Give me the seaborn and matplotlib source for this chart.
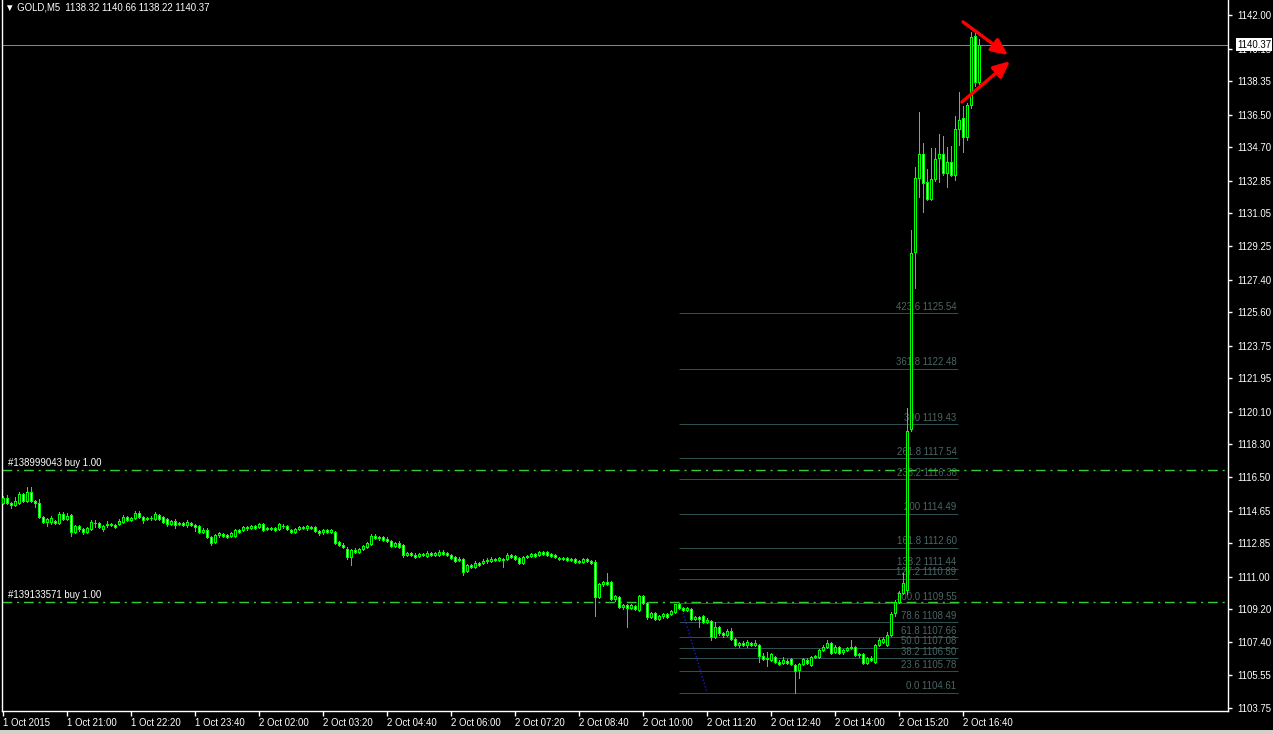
import numpy as np
import pandas as pd
import matplotlib
matplotlib.use("Agg")
import matplotlib.pyplot as plt
import matplotlib.transforms as mtransforms
from matplotlib.patches import Rectangle
import seaborn as sns

# GOLD M5 bars, 1 Oct 2015 19:40 -> 2 Oct 16:55
opens = [
    1115.07, 1115.35, 1115.07, 1114.96, 1115.07, 1115.57, 1115.18, 1115.68, 1115.18, 1115.07,
    1114.30, 1114.02, 1114.02, 1114.08, 1113.97, 1114.46, 1114.19, 1114.41, 1113.47, 1113.80,
    1113.63, 1113.47, 1113.63, 1113.97, 1113.97, 1113.63, 1113.86, 1113.91, 1113.86, 1113.91,
    1114.02, 1114.30, 1114.13, 1114.24, 1114.52, 1114.30, 1114.19, 1114.24, 1114.19, 1114.41,
    1114.30, 1114.19, 1113.91, 1114.08, 1113.91, 1113.97, 1113.86, 1113.97, 1113.86, 1113.80,
    1113.47, 1113.58, 1113.19, 1112.92, 1113.30, 1113.36, 1113.30, 1113.25, 1113.25, 1113.58,
    1113.58, 1113.69, 1113.69, 1113.80, 1113.75, 1113.91, 1113.63, 1113.69, 1113.69, 1113.63,
    1113.80, 1113.80, 1113.58, 1113.47, 1113.63, 1113.75, 1113.69, 1113.75, 1113.75, 1113.52,
    1113.47, 1113.58, 1113.47, 1113.47, 1112.92, 1112.75, 1112.53, 1112.09, 1112.48, 1112.36,
    1112.53, 1112.64, 1112.81, 1113.25, 1113.14, 1113.19, 1113.08, 1112.97, 1112.70, 1112.86,
    1112.75, 1112.20, 1112.31, 1112.20, 1112.14, 1112.25, 1112.14, 1112.31, 1112.20, 1112.20,
    1112.36, 1112.31, 1112.20, 1112.09, 1111.92, 1111.98, 1111.32, 1111.65, 1111.54, 1111.76,
    1111.76, 1111.87, 1111.87, 1111.98, 1111.92, 1111.98, 1111.98, 1112.20, 1112.14, 1112.03,
    1111.76, 1112.09, 1112.14, 1112.25, 1112.20, 1112.36, 1112.36, 1112.25, 1112.20, 1112.03,
    1111.98, 1112.03, 1111.92, 1111.98, 1111.81, 1111.81, 1111.98, 1111.87, 1111.81, 1109.88,
    1110.60, 1110.71, 1110.71, 1109.77, 1109.88, 1109.33, 1109.44, 1109.28, 1109.39, 1109.17,
    1109.94, 1109.55, 1108.78, 1109.00, 1108.67, 1108.84, 1108.95, 1108.95, 1109.06, 1109.50,
    1109.28, 1109.17, 1109.22, 1108.67, 1108.78, 1108.84, 1108.51, 1108.56, 1107.68, 1108.23,
    1107.90, 1107.79, 1108.01, 1107.57, 1107.24, 1107.35, 1107.24, 1107.35, 1107.24, 1107.24,
    1106.64, 1106.47, 1106.42, 1106.58, 1106.31, 1106.25, 1106.36, 1106.47, 1106.14, 1105.87,
    1106.20, 1106.42, 1106.14, 1106.58, 1106.58, 1106.97, 1107.13, 1107.35, 1106.86, 1107.13,
    1106.86, 1106.97, 1107.08, 1107.13, 1106.69, 1106.75, 1106.25, 1106.53, 1106.31, 1107.24,
    1107.41, 1107.24, 1107.79, 1109.00, 1109.61, 1110.10, 1110.27, 1119.15, 1128.92, 1133.01,
    1134.33, 1132.79, 1131.85, 1132.95, 1134.11, 1134.33, 1133.28, 1133.89, 1133.17, 1135.71,
    1136.32, 1135.27, 1137.04, 1140.84, 1138.32,
]
closes = [
    1115.35, 1115.07, 1114.96, 1115.18, 1115.57, 1115.18, 1115.68, 1115.18, 1115.07, 1114.30,
    1114.02, 1114.19, 1114.24, 1113.97, 1114.46, 1114.19, 1114.35, 1113.47, 1113.80, 1113.63,
    1113.47, 1113.69, 1114.02, 1113.97, 1113.75, 1113.80, 1113.91, 1113.86, 1113.75, 1114.08,
    1114.30, 1114.13, 1114.24, 1114.52, 1114.30, 1114.13, 1114.24, 1114.22, 1114.46, 1114.19,
    1114.02, 1113.91, 1114.08, 1113.86, 1113.97, 1113.86, 1114.02, 1113.86, 1113.75, 1113.47,
    1113.58, 1113.19, 1112.86, 1113.30, 1113.41, 1113.25, 1113.19, 1113.41, 1113.58, 1113.47,
    1113.75, 1113.75, 1113.80, 1113.69, 1113.91, 1113.58, 1113.69, 1113.63, 1113.58, 1113.91,
    1113.78, 1113.63, 1113.47, 1113.63, 1113.75, 1113.69, 1113.80, 1113.69, 1113.52, 1113.41,
    1113.58, 1113.47, 1113.58, 1112.86, 1112.75, 1112.64, 1112.09, 1112.48, 1112.36, 1112.53,
    1112.70, 1112.86, 1113.25, 1113.14, 1113.19, 1113.03, 1112.97, 1112.70, 1112.86, 1112.64,
    1112.20, 1112.31, 1112.20, 1112.09, 1112.25, 1112.20, 1112.31, 1112.20, 1112.31, 1112.36,
    1112.25, 1112.20, 1112.03, 1111.87, 1111.98, 1111.26, 1111.65, 1111.54, 1111.76, 1111.65,
    1111.87, 1111.92, 1111.98, 1111.92, 1112.03, 1111.92, 1112.20, 1112.09, 1111.98, 1111.76,
    1112.09, 1112.14, 1112.25, 1112.14, 1112.36, 1112.25, 1112.20, 1112.14, 1112.09, 1111.98,
    1112.03, 1111.92, 1111.98, 1111.81, 1111.87, 1111.98, 1111.87, 1111.76, 1109.88, 1110.60,
    1110.71, 1110.60, 1109.77, 1109.94, 1109.33, 1109.44, 1109.28, 1109.44, 1109.22, 1109.94,
    1109.55, 1108.78, 1109.00, 1108.67, 1108.84, 1108.95, 1108.78, 1109.11, 1109.50, 1109.28,
    1109.17, 1109.28, 1108.67, 1108.78, 1108.67, 1108.51, 1108.62, 1107.68, 1108.23, 1107.90,
    1107.79, 1108.01, 1107.57, 1107.24, 1107.35, 1107.24, 1107.41, 1107.24, 1107.35, 1106.64,
    1106.47, 1106.53, 1106.75, 1106.31, 1106.20, 1106.42, 1106.25, 1106.20, 1105.81, 1106.20,
    1106.47, 1106.25, 1106.58, 1106.64, 1106.97, 1107.13, 1107.35, 1106.80, 1107.13, 1106.80,
    1106.97, 1107.08, 1107.13, 1106.69, 1106.75, 1106.25, 1106.53, 1106.42, 1107.24, 1107.52,
    1107.57, 1107.79, 1108.95, 1109.61, 1110.10, 1110.65, 1119.04, 1128.87, 1133.01, 1134.33,
    1132.73, 1131.85, 1132.95, 1134.05, 1134.33, 1133.28, 1133.89, 1133.17, 1135.71, 1136.21,
    1135.27, 1137.04, 1140.79, 1138.30, 1140.37,
]
highs = [
    1115.46, 1115.51, 1115.13, 1115.40, 1115.68, 1115.62, 1115.95, 1115.95, 1115.24, 1115.29,
    1114.35, 1114.24, 1114.35, 1114.13, 1114.57, 1114.57, 1114.52, 1114.46, 1113.86, 1113.86,
    1113.69, 1113.75, 1114.13, 1114.13, 1114.02, 1113.86, 1114.08, 1113.97, 1113.91, 1114.19,
    1114.41, 1114.35, 1114.30, 1114.63, 1114.63, 1114.35, 1114.30, 1114.35, 1114.57, 1114.46,
    1114.35, 1114.24, 1114.13, 1114.19, 1114.02, 1114.02, 1114.13, 1114.02, 1113.91, 1113.86,
    1113.69, 1113.69, 1113.25, 1113.36, 1113.47, 1113.41, 1113.36, 1113.47, 1113.63, 1113.63,
    1113.80, 1113.80, 1113.86, 1113.86, 1113.97, 1113.97, 1113.75, 1113.75, 1113.75, 1113.97,
    1113.91, 1113.86, 1113.63, 1113.69, 1113.80, 1113.80, 1113.86, 1113.80, 1113.80, 1113.58,
    1113.63, 1113.63, 1113.63, 1113.52, 1112.97, 1112.86, 1112.64, 1112.53, 1112.59, 1112.59,
    1112.75, 1112.92, 1113.36, 1113.36, 1113.25, 1113.25, 1113.19, 1113.03, 1112.92, 1112.97,
    1112.81, 1112.36, 1112.36, 1112.31, 1112.31, 1112.31, 1112.42, 1112.36, 1112.36, 1112.48,
    1112.48, 1112.36, 1112.25, 1112.14, 1112.09, 1112.03, 1111.70, 1111.70, 1111.87, 1111.81,
    1111.98, 1112.03, 1112.09, 1112.03, 1112.09, 1112.03, 1112.31, 1112.25, 1112.20, 1112.09,
    1112.14, 1112.20, 1112.31, 1112.31, 1112.42, 1112.42, 1112.42, 1112.31, 1112.25, 1112.09,
    1112.09, 1112.09, 1112.03, 1112.03, 1111.92, 1112.03, 1112.03, 1111.92, 1111.92, 1110.65,
    1110.76, 1111.21, 1110.76, 1109.99, 1109.94, 1109.50, 1109.50, 1109.50, 1109.44, 1109.99,
    1109.99, 1109.61, 1109.06, 1109.06, 1108.89, 1109.00, 1109.00, 1109.17, 1109.50, 1109.55,
    1109.33, 1109.33, 1109.28, 1108.84, 1108.84, 1108.89, 1108.73, 1108.62, 1108.51, 1108.29,
    1107.96, 1108.12, 1108.18, 1107.63, 1107.41, 1107.46, 1107.52, 1107.41, 1107.52, 1107.30,
    1106.80, 1106.86, 1106.80, 1106.64, 1106.42, 1106.58, 1106.47, 1106.53, 1106.20, 1106.25,
    1106.53, 1106.53, 1106.64, 1106.69, 1107.02, 1107.24, 1107.52, 1107.41, 1107.24, 1107.19,
    1107.02, 1107.13, 1107.52, 1107.19, 1106.80, 1106.80, 1106.58, 1106.64, 1107.30, 1107.63,
    1107.68, 1107.96, 1109.06, 1109.72, 1110.21, 1111.21, 1120.31, 1130.14, 1133.61, 1136.65,
    1134.94, 1133.50, 1134.66, 1134.66, 1135.43, 1135.32, 1134.72, 1134.77, 1136.43, 1137.75,
    1136.98, 1137.15, 1141.06, 1141.06, 1140.66,
]
lows = [
    1115.01, 1115.01, 1114.79, 1114.90, 1115.01, 1115.13, 1115.13, 1115.13, 1114.85, 1114.24,
    1113.97, 1113.80, 1113.91, 1113.91, 1113.91, 1114.13, 1114.13, 1113.25, 1113.41, 1113.52,
    1113.36, 1113.41, 1113.58, 1113.75, 1113.69, 1113.52, 1113.75, 1113.80, 1113.69, 1113.86,
    1113.97, 1114.08, 1114.08, 1114.19, 1114.24, 1113.97, 1114.13, 1114.13, 1114.13, 1114.13,
    1113.97, 1113.80, 1113.86, 1113.69, 1113.86, 1113.80, 1113.75, 1113.80, 1113.52, 1113.41,
    1113.41, 1113.14, 1112.75, 1112.86, 1113.19, 1113.19, 1113.14, 1113.19, 1113.19, 1113.41,
    1113.52, 1113.58, 1113.63, 1113.63, 1113.69, 1113.52, 1113.58, 1113.58, 1113.52, 1113.58,
    1113.69, 1113.58, 1113.41, 1113.41, 1113.58, 1113.63, 1113.58, 1113.63, 1113.47, 1113.30,
    1113.36, 1113.41, 1113.41, 1112.81, 1112.70, 1112.59, 1111.98, 1111.65, 1112.31, 1112.31,
    1112.48, 1112.59, 1112.75, 1113.08, 1113.03, 1112.97, 1112.92, 1112.64, 1112.64, 1112.59,
    1112.09, 1112.14, 1112.14, 1112.03, 1112.09, 1112.14, 1112.09, 1112.14, 1112.14, 1112.14,
    1112.20, 1112.14, 1111.98, 1111.81, 1111.87, 1111.10, 1111.26, 1111.48, 1111.48, 1111.59,
    1111.70, 1111.76, 1111.81, 1111.87, 1111.87, 1111.54, 1111.92, 1112.03, 1111.92, 1111.70,
    1111.70, 1112.03, 1112.09, 1112.09, 1112.14, 1112.20, 1112.14, 1112.09, 1112.03, 1111.92,
    1111.92, 1111.87, 1111.87, 1111.76, 1111.76, 1111.76, 1111.81, 1111.70, 1108.84, 1109.83,
    1110.49, 1110.54, 1109.72, 1109.66, 1109.28, 1109.22, 1108.23, 1109.22, 1109.17, 1109.11,
    1109.50, 1108.67, 1108.73, 1108.62, 1108.62, 1108.73, 1108.73, 1108.89, 1109.00, 1109.22,
    1109.11, 1109.11, 1108.62, 1108.62, 1108.23, 1108.45, 1108.45, 1107.52, 1107.63, 1107.79,
    1107.68, 1107.74, 1107.52, 1107.19, 1107.13, 1107.19, 1107.13, 1107.19, 1107.19, 1106.31,
    1106.42, 1106.09, 1106.36, 1106.25, 1106.14, 1106.20, 1106.20, 1106.14, 1104.61, 1105.43,
    1106.14, 1106.20, 1106.09, 1106.53, 1106.53, 1106.91, 1107.08, 1106.75, 1106.80, 1106.75,
    1106.75, 1106.91, 1107.02, 1106.64, 1106.58, 1106.20, 1106.20, 1106.36, 1106.25, 1107.19,
    1107.35, 1107.19, 1107.74, 1108.84, 1109.55, 1110.05, 1110.05, 1119.04, 1126.94, 1131.96,
    1131.13, 1131.79, 1131.79, 1132.84, 1132.79, 1133.17, 1132.51, 1133.12, 1132.90, 1134.83,
    1134.44, 1135.10, 1136.87, 1138.08, 1138.22,
]

# time axis labels, one every 16 bars
time_labels = ["1 Oct 2015", "1 Oct 21:00", "1 Oct 22:20", "1 Oct 23:40", "2 Oct 02:00",
               "2 Oct 03:20", "2 Oct 04:40", "2 Oct 06:00", "2 Oct 07:20", "2 Oct 08:40",
               "2 Oct 10:00", "2 Oct 11:20", "2 Oct 12:40", "2 Oct 14:00", "2 Oct 15:20",
               "2 Oct 16:40"]
price_labels = ["1142.00", "1140.15", "1138.35", "1136.50", "1134.70", "1132.85", "1131.05",
                "1129.25", "1127.40", "1125.60", "1123.75", "1121.95", "1120.10", "1118.30",
                "1116.50", "1114.65", "1112.85", "1111.00", "1109.20", "1107.40", "1105.55",
                "1103.75"]

# fibonacci expansion
fib_levels = ["0.0", "23.6", "38.2", "50.0", "61.8", "78.6", "100.0", "127.2", "138.2",
              "161.8", "200", "238.2", "261.8", "300", "361.8", "423.6"]
fib_prices = [1104.61, 1105.78, 1106.50, 1107.08, 1107.66, 1108.49, 1109.55, 1110.89,
              1111.44, 1112.60, 1114.49, 1116.38, 1117.54, 1119.43, 1122.48, 1125.54]
fib_span = [169.0, 238.75]
fib_anchor_x = [169.25, 176.0]
fib_anchor_y = [1109.55, 1104.61]

# open orders
order_labels = ["#138999043 buy 1.00", "#139133571 buy 1.00"]
order_prices = [1116.89, 1109.58]

bid_price = 1140.37
header = "\u25bc GOLD,M5  1138.32 1140.66 1138.22 1140.37"

# red hand-drawn arrows (bar index, price)
arrow_tails = [(240.0, 1141.62), (239.75, 1137.20)]
arrow_heads = [(251.25, 1139.79), (251.75, 1139.46)]

W, H = 1273, 734
PX = 72 / 100  # one pixel in points
FS = 6.9

sns.set_theme(style="dark", rc={"axes.facecolor": "black", "figure.facecolor": "black",
                                "lines.scale_dashes": False})
plt.rcParams["font.family"] = ["Liberation Sans", "DejaVu Sans"]

df = pd.DataFrame({"open": opens, "high": highs, "low": lows, "close": closes})
df["bar"] = np.arange(len(df))
df["top"] = df[["open", "close"]].max(axis=1)
df["bot"] = df[["open", "close"]].min(axis=1)
df["high"] = np.maximum(df["high"], df["top"])
df["low"] = np.minimum(df["low"], df["bot"])
up = df["close"] >= df["open"]

fig = plt.figure(figsize=(W / 100, H / 100), dpi=100)
fig.patch.set_facecolor("black")
ax = fig.add_axes([2 / W, 23 / H, 1226 / W, 711 / H])
ax.set_facecolor("black")
ax.grid(False)

lime = "#00ff00"

# fib lines + labels (under the candles)
ax.hlines(fib_prices, fib_span[0], fib_span[1], colors="#2f4f4f", linewidth=PX, zorder=1)
for lvl, p in zip(fib_levels, fib_prices):
    ax.annotate(f"{lvl} {p:.2f}", (fib_span[1], p), xytext=(-1, 1.0), textcoords="offset points",
                ha="right", va="bottom", color="#4b6565", fontsize=FS, zorder=1)
sns.lineplot(x=fib_anchor_x, y=fib_anchor_y, ax=ax, color="#1a1ad0", linestyle=(0, (1, 1.5)),
             linewidth=1.0, zorder=1)

# order lines
for lab, p in zip(order_labels, order_prices):
    ax.axhline(p, color="#32cd32", linewidth=1.0, dashes=(7, 3.5, 1.5, 3.5), zorder=2)
    ax.annotate(lab, (1.25, p), xytext=(0, 1.5), textcoords="offset points", ha="left",
                va="bottom", color="white", fontsize=FS, zorder=2)

# bid line
ax.axhline(bid_price, color="#778899", linewidth=PX, zorder=2)

# candles: hollow body = up bar, white body = down bar
ax.vlines(df["bar"], df["low"], df["high"], colors=lime, linewidth=PX, zorder=4,
          antialiased=False)
ax.bar(df["bar"], df["top"] - df["bot"], bottom=df["bot"], width=0.5,
       color=np.where(up, "black", "white"), edgecolor=lime, linewidth=PX, zorder=5,
       antialiased=False)

# arrows
for (tx, ty), (hx, hy) in zip(arrow_tails, arrow_heads):
    ax.annotate("", xy=(hx, hy), xytext=(tx, ty),
                arrowprops=dict(arrowstyle="-|>,head_length=0.7,head_width=0.32",
                                color="#ff0000", lw=2.4, mutation_scale=14,
                                shrinkA=0, shrinkB=0),
                annotation_clip=False, zorder=6)

ax.set_xlim(-0.25, 306.25)
ax.set_ylim(1103.59, 1142.83)

for side in ["left", "bottom", "right"]:
    ax.spines[side].set_visible(True)
    ax.spines[side].set_color("white")
    ax.spines[side].set_linewidth(1.0)
ax.spines["top"].set_visible(False)

ax.yaxis.tick_right()
ax.set_yticks([float(s) for s in price_labels])
ax.set_yticklabels(price_labels)
ax.tick_params(axis="y", colors="white", length=4 * PX, width=1.0, pad=3.5,
               labelsize=FS, left=False, right=True)

ax.set_xticks(np.arange(len(time_labels)) * 16)
ax.set_xticklabels(time_labels, ha="left")
ax.tick_params(axis="x", colors="white", length=5 * PX, width=1.0, pad=1.2, labelsize=FS,
               bottom=True)

# current price box on the scale
trans = mtransforms.blended_transform_factory(ax.transAxes, ax.transData)
ax.text(1.0 + 9 / 1226, bid_price, "1140.37", transform=trans, ha="left", va="center",
        fontsize=FS, color="black", zorder=10, clip_on=False,
        bbox=dict(boxstyle="square,pad=0.12", fc="white", ec="none"))

fig.text(5 / W, 1 - 2 / H, header, color="white", fontsize=FS, ha="left", va="top")

# tab strip at the very bottom
fig.patches.append(Rectangle((0, 0), 1, 4 / H, transform=fig.transFigure,
                             facecolor="#d4d0c8", edgecolor="none", zorder=0))

fig.savefig("out.png", dpi=100, facecolor="black")
